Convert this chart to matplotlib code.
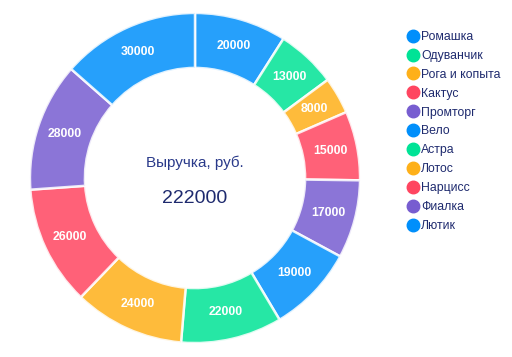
import matplotlib

matplotlib.use("Agg")
import matplotlib.pyplot as plt
from matplotlib.lines import Line2D

plt.rcParams["font.family"] = ["Liberation Sans", "DejaVu Sans"]

names = ["Ромашка", "Одуванчик", "Рога и копыта", "Кактус", "Промторг", "Вело",
         "Астра", "Лотос", "Нарцисс", "Фиалка", "Лютик"]
revenue = [20000, 13000, 8000, 15000, 17000, 19000, 22000, 24000, 26000, 28000, 30000]
palette = ["#008FFB", "#00E396", "#FEB019", "#FF4560", "#775DD0"]
center_title = "Выручка, руб."

colors = [palette[i % len(palette)] for i in range(len(revenue))]
text_color = "#1e2a6e"

fig = plt.figure(figsize=(5.12, 3.57), dpi=100)
ax = fig.add_axes([(195 - 170) / 512, (179 - 170) / 357, 340 / 512, 340 / 357])

wedges, labels = ax.pie(
    revenue,
    colors=colors,
    startangle=90,
    counterclock=False,
    radius=1.0,
    labels=[str(v) for v in revenue],
    labeldistance=0.835,
    wedgeprops=dict(width=0.333, edgecolor="white", linewidth=1.8, alpha=0.85),
    textprops=dict(color="white", fontsize=8.8, fontweight="bold"),
)
for t in labels:
    t.set_ha("center")
    t.set_va("center")

ax.set_xlim(-1.03, 1.03)
ax.set_ylim(-1.03, 1.03)
ax.set_aspect("equal")
ax.axis("off")

ax.text(0, 0.09, center_title, ha="center", va="center", fontsize=11, color="#2a3a8a")
ax.text(0, -0.125, str(sum(revenue)), ha="center", va="center", fontsize=14, color=text_color)

handles = [Line2D([0], [0], marker="o", linestyle="", markersize=9,
                  markerfacecolor=c, markeredgecolor=c) for c in colors]
fig.legend(
    handles, names,
    loc="upper left",
    bbox_to_anchor=(402 / 512, 1 - 26 / 357),
    frameon=False,
    fontsize=8.8,
    labelcolor=text_color,
    handletextpad=0.15,
    handlelength=1.0,
    labelspacing=0.565,
    borderaxespad=0,
)

fig.savefig("out.png", dpi=100)
